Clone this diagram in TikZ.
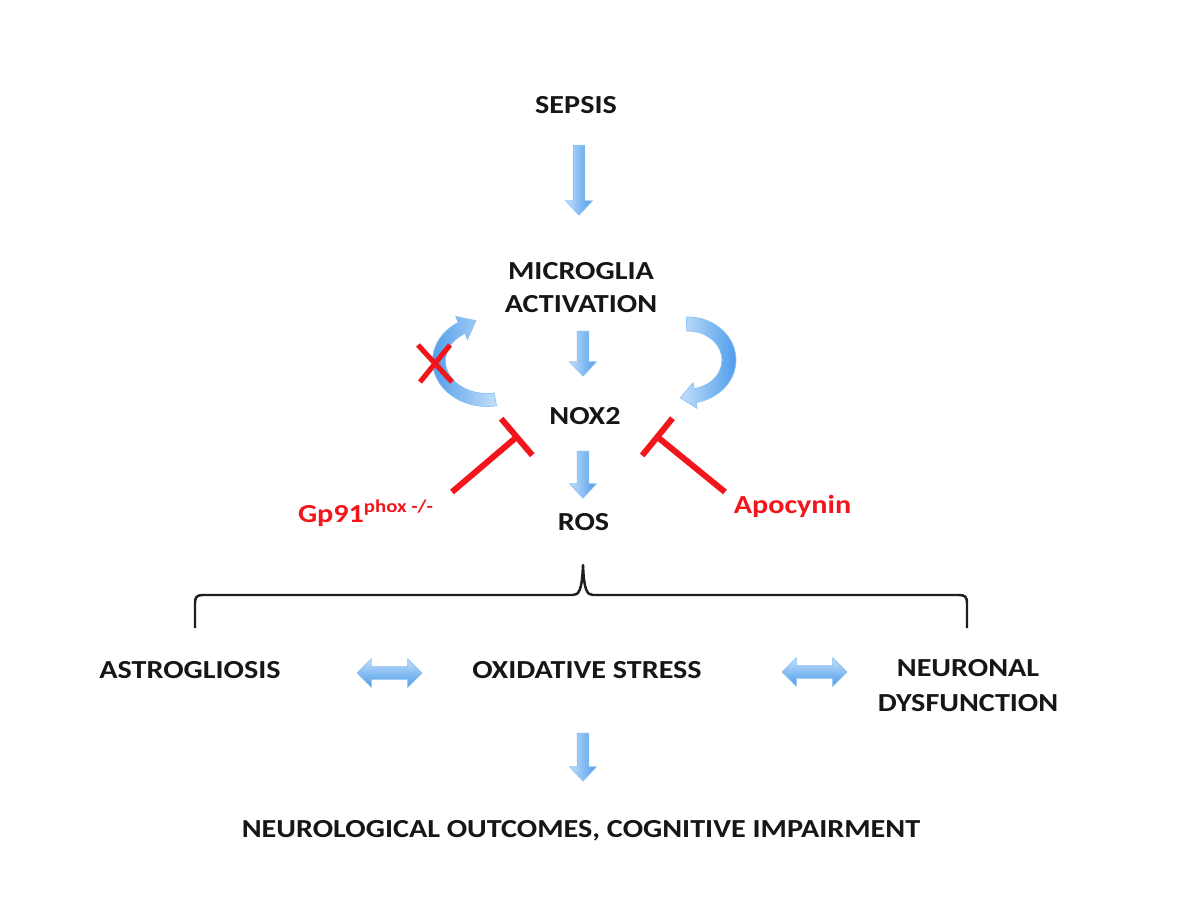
\documentclass[tikz,border=0pt]{standalone}
\usepackage{fontspec}
\setmainfont{Carlito}[FakeStretch=1.16]
\usetikzlibrary{shapes.arrows,arrows.meta,calc}
\definecolor{txt}{HTML}{161616}
\definecolor{inh}{HTML}{F2161C}
\definecolor{blight}{HTML}{C3DFFA}
\definecolor{bdark}{HTML}{4C9CEA}
\definecolor{bedge}{HTML}{8DC1F1}
\definecolor{brace}{HTML}{1E1E1E}
\begin{document}
\begin{tikzpicture}[x=0.02cm,y=-0.02cm,
  lbl/.style={font=\fontsize{14.8}{18.7}\selectfont\bfseries, text=txt, inner sep=0pt, outer sep=0pt, align=center},
  redlbl/.style={font=\fontsize{14.8}{18}\selectfont\bfseries, text=inh, inner sep=0pt, outer sep=0pt},
  downarrow/.style={single arrow, draw=bedge, line width=0.4pt, left color=blight, right color=bdark,
    inner sep=0.11cm, single arrow head extend=0.15cm, single arrow tip angle=86, rotate=-90,
    minimum height=#1},
  twoarrow/.style={double arrow, draw=bedge, line width=0.4pt, top color=blight, bottom color=bdark,
    inner sep=0.12cm, double arrow head extend=0.16cm, double arrow tip angle=90,
    minimum height=#1},
  curvarrow/.style={draw=bedge, line width=0.4pt},
  inhib/.style={draw=inh, line width=3.4pt, -{Bar[width=0.96cm, line width=3.4pt]}},
  crossline/.style={draw=inh, line width=2.9pt},
  bracket/.style={draw=brace, line width=1.4pt, line join=round}
]
\useasboundingbox (0,0) rectangle (1200,900);
\fill[white] (0,0) rectangle (1200,900);

% texts
\node[lbl, anchor=base] (sepsis) at (576,113) {SEPSIS};
\node[lbl, anchor=center] (micro) at (581,287.5) {MICROGLIA\\ACTIVATION};
\node[lbl, anchor=base] (nox) at (585,424) {NOX2};
\node[lbl, anchor=base] (ros) at (583.5,530) {ROS};
\node[redlbl, anchor=base west] (gp) at (298,522) {Gp91{\fontsize{10.2}{11}\selectfont\raisebox{5.4pt}{phox -/-}}};
\node[redlbl, anchor=base] (apo) at (792.5,513) {Apocynin};
\node[lbl, anchor=base] (astro) at (190,678) {ASTROGLIOSIS};
\node[lbl, anchor=base] (oxid) at (587,678) {OXIDATIVE STRESS};
\node[lbl, anchor=center, font=\fontsize{14.8}{19.8}\selectfont\bfseries] (neuro) at (968,685.5) {NEURONAL\\DYSFUNCTION};
\node[lbl, anchor=base] (outc) at (581,837) {NEUROLOGICAL OUTCOMES, COGNITIVE IMPAIRMENT};

% block arrows
\node[downarrow=1.4cm] (a1) at (579,177) {};
\node[downarrow=0.9cm] (a2) at (583,350.5) {};
\node[downarrow=0.94cm] (a3) at (583,471.5) {};
\node[downarrow=0.96cm] (a4) at (583,754) {};
\node[twoarrow=1.3cm] (d1) at (389.5,673) {};
\node[twoarrow=1.3cm] (d2) at (814.5,672) {};

% curved arrows
\path[curvarrow, left color=bdark, right color=blight]
  (496.5,405.8) arc[start angle=80, end angle=238, x radius=54.5, y radius=45.5]
  -- (455.7,316.3) -- (475.9,320.7) -- (467.5,339.5) -- (465.0,333.4)
  arc[start angle=238, end angle=80, x radius=41.5, y radius=32.5] -- cycle;
\path[curvarrow, left color=blight, right color=bdark]
  (686.3,317.0) arc[start angle=268, end angle=440, x radius=48, y radius=43]
  -- (697.1,408.3) -- (680.3,397.8) -- (693.1,382.7) -- (693.9,388.6)
  arc[start angle=440, end angle=268, x radius=34, y radius=29] -- cycle;

% red cross
\draw[crossline] (418,345) -- (452,382) (450,345) -- (420,382);

% inhibition
\coordinate (gpS) at (452,492);
\coordinate (gpE) at (519,435);
\coordinate (apS) at (725,492);
\coordinate (apE) at (655,435);
\draw[inhib] (gpS) -- (gpE);
\draw[inhib] (apS) -- (apE);

% brace
\draw[bracket] (195,628) -- (195,603) .. controls (195,597) and (197,595) .. (203,595)
  -- (573,595) .. controls (579,595) and (582,590) .. (583,565)
  .. controls (584,590) and (587,595) .. (593,595)
  -- (959,595) .. controls (965,595) and (967,597) .. (967,603) -- (967,628);
\end{tikzpicture}
\end{document}
